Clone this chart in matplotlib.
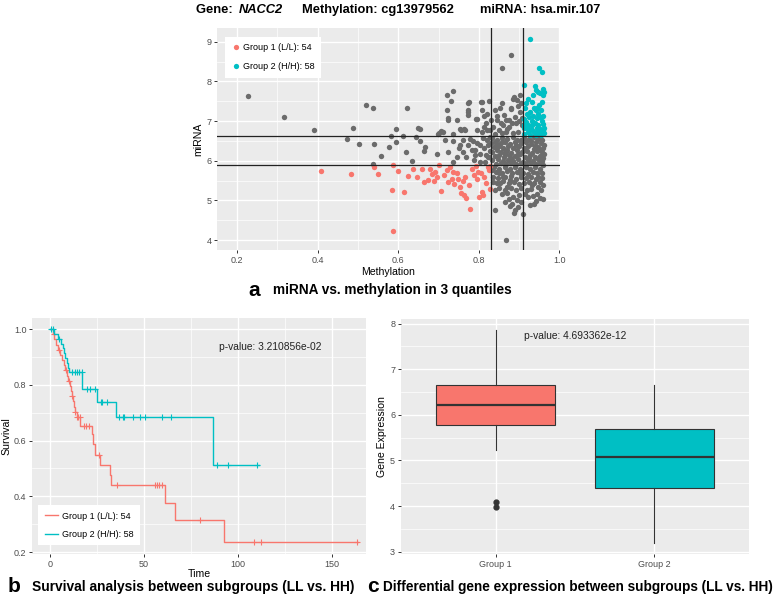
import numpy as np
import matplotlib
matplotlib.use("Agg")
import matplotlib.pyplot as plt
from matplotlib.lines import Line2D

plt.rcParams['font.family'] = ['Liberation Sans', 'DejaVu Sans']

# ---------------- data: panel a (methylation, miRNA) ----------------
red_points = [(0.407,5.74),(0.483,5.67),(0.539,5.85),(0.549,5.67),(0.584,5.25),(0.588,5.88),
    (0.599,5.74),(0.588,4.24),(0.614,5.21),(0.623,5.62),(0.636,5.78),(0.646,5.60),(0.659,5.78),
    (0.664,5.47),(0.673,5.51),(0.679,5.80),(0.683,5.66),(0.692,5.71),(0.696,5.59),(0.690,5.50),
    (0.702,5.88),(0.707,5.23),(0.714,5.63),(0.721,5.76),(0.724,5.47),(0.733,5.55),(0.737,5.72),
    (0.739,5.41),(0.745,5.68),(0.749,5.53),(0.754,5.34),(0.757,5.19),(0.760,5.48),(0.764,5.13),
    (0.769,5.06),(0.775,5.39),(0.777,4.79),(0.783,5.80),(0.788,5.63),(0.792,5.87),(0.795,5.55),
    (0.798,5.72),(0.800,5.08),(0.805,5.68),(0.807,5.22),(0.810,5.13),(0.813,5.60),(0.817,5.45),
    (0.822,5.83),(0.825,5.76),(0.827,5.86),(0.828,5.28),(0.729,5.83),(0.765,5.60)]

teal_points = [(0.926,9.08),(0.950,8.34),(0.958,8.23),(0.911,7.91),(0.940,7.88),(0.942,7.78),
    (0.948,7.74),(0.952,7.70),(0.960,7.80),(0.959,7.66),(0.962,7.72),(0.923,7.55),(0.931,7.49),
    (0.956,7.49),(0.944,7.34),(0.915,7.32),(0.919,7.19),(0.927,7.24),(0.942,7.28),(0.948,7.18),
    (0.935,7.13),(0.952,7.09),(0.911,7.04),(0.944,7.07),(0.917,6.98),(0.931,7.01),(0.956,7.01),
    (0.923,6.90),(0.940,6.94),(0.948,6.90),(0.959,6.92),(0.913,6.82),(0.929,6.80),(0.944,6.83),
    (0.952,6.79),(0.960,6.77),(0.921,6.73),(0.936,6.73),(0.948,6.71),(0.956,6.73),(0.962,6.69),
    (0.911,6.67),(0.927,6.65),(0.942,6.66),(0.954,6.64),(0.917,7.45),(0.935,7.66),(0.950,7.40),
    (0.933,6.90),(0.959,7.13),(0.913,6.90),(0.925,7.09),(0.938,7.34),(0.954,7.28),(0.919,6.82),
    (0.946,6.77),(0.962,6.82),(0.931,6.77)]

grey_points = [
    (0.226,7.64),(0.316,7.09),(0.392,6.78),(0.473,6.55),(0.487,6.83),(0.503,6.42),(0.520,7.41),
    (0.537,7.34),(0.541,6.43),(0.537,5.93),(0.558,6.11),(0.578,6.34),(0.583,6.62),(0.594,6.80),
    (0.595,6.46),(0.613,6.62),(0.622,7.34),(0.620,6.21),(0.634,5.99),(0.643,6.61),(0.648,6.83),
    (0.655,6.81),(0.655,6.50),(0.666,6.34),(0.665,6.24),(0.698,6.68),(0.707,6.75),(0.696,6.17),
    (0.721,7.65),(0.737,7.76),(0.731,7.50),(0.721,7.28),(0.724,7.08),(0.723,7.02),(0.717,6.52),
    (0.723,6.22),(0.735,6.50),(0.737,6.68),(0.745,7.03),(0.750,6.31),(0.756,6.77),(0.760,6.22),
    (0.764,6.80),(0.774,7.45),(0.774,7.16),(0.769,6.09),(0.785,6.50),(0.791,6.28),(0.794,7.05),
    (0.803,6.40),(0.808,7.48),(0.807,7.29),(0.814,7.12),(0.826,7.50),(0.820,6.77),(0.829,6.59),
    (0.826,6.10),(0.857,8.34),(0.880,8.66),(0.858,7.45),(0.876,7.03),(0.879,7.30),(0.884,7.55),
    # upper middle
    (0.776,7.47),(0.806,7.49),(0.773,7.28),(0.773,7.22),(0.795,7.05),(0.820,7.19),(0.840,7.28),
    (0.846,7.03),(0.853,7.34),(0.863,7.14),(0.868,7.03),(0.880,7.34),(0.888,7.61),(0.894,7.53),
    (0.898,7.38),(0.902,7.24),(0.890,7.09),(0.882,6.94),(0.874,6.86),(0.861,6.90),(0.849,6.77),
    (0.836,6.86),(0.828,6.77),(0.818,6.94),(0.807,6.73),(0.795,6.77),(0.766,6.77),(0.754,6.80),
    (0.711,6.73),(0.700,6.69),(0.898,6.73),(0.886,6.69),(0.907,6.90),(0.907,7.07),(0.857,6.69),
    (0.840,6.67),(0.868,6.73),(0.893,6.94),(0.902,7.65),(0.905,7.45),(0.900,7.00),(0.870,6.80),
    (0.855,6.95),(0.845,7.12),(0.831,7.02),(0.812,6.85),
    # band, left of first vertical line
    (0.762,6.52),(0.774,6.39),(0.783,6.27),(0.795,6.44),(0.803,6.18),(0.812,6.31),(0.820,6.52),
    (0.824,6.10),(0.803,5.97),(0.787,6.02),(0.816,5.97),(0.754,6.39),(0.745,6.10),(0.737,5.97),
    (0.810,6.58),(0.822,6.40),(0.828,6.25),(0.817,6.15),(0.790,6.15),(0.778,6.55),
    # dense band
    (0.834,6.57),(0.846,6.53),(0.858,6.58),(0.871,6.55),(0.884,6.59),(0.896,6.52),(0.912,6.58),
    (0.924,6.54),(0.936,6.60),(0.948,6.56),(0.958,6.52),
    (0.830,6.44),(0.841,6.48),(0.853,6.42),(0.865,6.47),(0.878,6.43),(0.891,6.48),(0.904,6.44),
    (0.917,6.47),(0.930,6.42),(0.942,6.48),(0.955,6.45),(0.962,6.40),
    (0.837,6.34),(0.849,6.37),(0.861,6.31),(0.873,6.36),(0.886,6.33),(0.899,6.38),(0.911,6.32),
    (0.923,6.36),(0.936,6.30),(0.948,6.35),(0.960,6.31),
    (0.832,6.22),(0.844,6.26),(0.856,6.21),(0.868,6.25),(0.881,6.20),(0.894,6.26),(0.907,6.22),
    (0.919,6.25),(0.932,6.19),(0.944,6.24),(0.956,6.21),
    (0.839,6.12),(0.851,6.15),(0.863,6.10),(0.876,6.14),(0.889,6.11),(0.902,6.16),(0.915,6.10),
    (0.927,6.14),(0.940,6.09),(0.952,6.13),(0.962,6.17),
    (0.834,6.01),(0.847,6.04),(0.859,5.99),(0.872,6.03),(0.884,6.00),(0.897,6.05),(0.910,5.98),
    (0.922,6.03),(0.934,5.99),(0.946,6.04),(0.958,6.00),
    (0.842,5.92),(0.855,5.94),(0.867,5.91),(0.879,5.95),(0.892,5.92),(0.905,5.94),(0.917,5.91),
    (0.929,5.95),(0.941,5.92),(0.953,5.94),
    (0.845,6.40),(0.870,6.28),(0.893,6.40),(0.915,6.28),(0.940,6.38),(0.950,6.27),(0.925,6.07),
    (0.880,6.07),(0.858,6.46),(0.905,6.53),(0.930,6.50),(0.953,6.60),(0.960,6.07),(0.898,6.18),
    (0.866,6.18),
    # lower right
    (0.832,5.76),(0.836,5.47),(0.840,5.26),(0.839,4.76),(0.849,5.68),(0.853,5.43),(0.861,5.60),
    (0.869,5.34),(0.874,5.03),(0.878,5.51),(0.882,4.92),(0.886,5.09),(0.890,4.76),(0.894,5.01),
    (0.888,4.69),(0.868,4.00),(0.902,5.68),(0.911,5.43),(0.919,5.26),(0.923,5.09),(0.909,4.66),
    (0.932,5.39),(0.936,4.92),(0.942,4.99),(0.948,5.60),(0.952,5.47),(0.956,5.68),(0.960,5.89),
    (0.959,5.39),(0.952,5.05),(0.944,5.17),
    (0.838,5.83),(0.851,5.80),(0.864,5.84),(0.877,5.79),(0.890,5.83),(0.903,5.80),(0.916,5.84),
    (0.928,5.79),(0.940,5.83),(0.951,5.78),
    (0.843,5.72),(0.857,5.69),(0.870,5.73),(0.883,5.68),(0.896,5.72),(0.910,5.70),(0.922,5.66),
    (0.934,5.71),(0.945,5.68),
    (0.835,5.59),(0.848,5.56),(0.866,5.58),(0.880,5.62),(0.893,5.55),(0.906,5.59),(0.918,5.56),
    (0.930,5.60),(0.941,5.55),(0.958,5.57),
    (0.845,5.44),(0.860,5.48),(0.874,5.44),(0.887,5.46),(0.899,5.42),(0.925,5.47),(0.938,5.45),
    (0.946,5.35),
    (0.850,5.30),(0.864,5.27),(0.880,5.31),(0.893,5.26),(0.906,5.32),(0.930,5.28),(0.955,5.25),
    (0.857,5.16),(0.871,5.18),(0.900,5.14),(0.915,5.17),(0.935,5.12),(0.960,5.03),
    (0.877,4.86),(0.897,4.84),(0.928,4.88),(0.905,4.96),(0.866,4.97)]

meth_cuts = [0.8306, 0.909]
mirna_cuts = [5.90, 6.62]

# ---------------- data: panel b (Kaplan-Meier steps) ----------------
g1_times = [0, 1.5, 2.5, 3.5, 4.5, 5.5, 6.5, 7.5, 8.3, 9.0, 9.8, 10.6, 11.3, 11.9, 12.5, 13.0,
            13.6, 14.3, 16.3, 22.5, 23.2, 24.0, 26.6, 31.9, 32.8, 61.5, 66.3, 92.6]
g1_surv = [1.0, 0.981, 0.963, 0.944, 0.926, 0.907, 0.889, 0.870, 0.852, 0.833, 0.815, 0.796,
           0.778, 0.759, 0.741, 0.722, 0.703, 0.684, 0.654, 0.622, 0.586, 0.549, 0.513, 0.477,
           0.440, 0.377, 0.314, 0.236]
g1_end = 163.5
g1_censor = [2.1, 4.8, 8.4, 10.1, 11.9, 13.7, 14.6, 15.2, 16.0, 18.1, 19.5, 20.7, 26.0, 35.5,
             55.9, 57.1, 58.3, 59.8, 79.6, 108.5, 112.0, 163.0]

g2_times = [0, 2.5, 4.5, 6.0, 6.8, 7.5, 8.2, 9.0, 9.8, 10.5, 17.3, 25.2, 35.0, 86.7]
g2_surv = [1.0, 0.983, 0.966, 0.948, 0.931, 0.914, 0.897, 0.879, 0.862, 0.845, 0.785, 0.738,
           0.683, 0.513]
g2_end = 111.0
g2_censor = [0.5, 1.5, 4.7, 11.9, 13.5, 14.5, 15.5, 17.0, 19.9, 21.6, 24.3, 27.0, 27.9, 30.5,
             36.7, 39.0, 39.7, 44.4, 47.9, 50.4, 59.4, 64.2, 89.0, 94.7, 110.3]

pval_b = "p-value: 3.210856e-02"

# ---------------- data: panel c (box plot) ----------------
box_groups = ["Group 1", "Group 2"]
box_med = [6.21, 5.08]
box_q1 = [5.78, 4.39]
box_q3 = [6.66, 5.69]
box_lo = [5.22, 3.20]
box_hi = [7.85, 6.65]
box_fliers = [[4.09, 3.97], []]
pval_c = "p-value: 4.693362e-12"

RED = '#F8766D'
TEAL = '#00BFC4'
GREY = '#6B6B6B'

W, H = 778, 601
fig = plt.figure(figsize=(W / 100, H / 100), dpi=100)


def rect(l, t, r, b):
    return [l / W, 1 - b / H, (r - l) / W, (b - t) / H]


def gg(ax):
    ax.set_facecolor('#EBEBEB')
    for s in ax.spines.values():
        s.set_visible(False)
    ax.set_axisbelow(True)
    ax.grid(which='major', color='white', lw=1.0)
    ax.grid(which='minor', color='white', lw=0.5)
    ax.tick_params(which='major', length=2.5, width=0.7, color='#333333',
                   labelsize=6.5, labelcolor='#4D4D4D', pad=1.5)
    ax.tick_params(which='minor', length=0)


def ftext(x, y, s, **kw):
    return fig.text(x / W, 1 - y / H, s, **kw)


# ---------------- panel a ----------------
axA = fig.add_axes(rect(217, 28, 560, 250))
gg(axA)
gx, gy = zip(*grey_points)
rx, ry = zip(*red_points)
tx, ty = zip(*teal_points)
axA.scatter(gx, gy, s=15, c=GREY, linewidths=0, zorder=2)
axA.scatter(rx, ry, s=15, c=RED, linewidths=0, zorder=2)
axA.scatter(tx, ty, s=15, c=TEAL, linewidths=0, zorder=2)
for v in meth_cuts:
    axA.axvline(v, color='#222222', lw=0.9, zorder=3)
for h in mirna_cuts:
    axA.axhline(h, color='#222222', lw=0.9, zorder=3)
axA.set_xlim(0.150, 1.0016)
axA.set_ylim(3.75, 9.345)
axA.set_xticks([0.2, 0.4, 0.6, 0.8, 1.0])
axA.set_xticklabels(['0.2', '0.4', '0.6', '0.8', '1.0'])
axA.set_xticks([0.3, 0.5, 0.7, 0.9], minor=True)
axA.set_yticks([4, 5, 6, 7, 8, 9])
axA.set_yticks([4.5, 5.5, 6.5, 7.5, 8.5], minor=True)
axA.set_xlabel('Methylation', fontsize=7.6, labelpad=2)
axA.set_ylabel('miRNA', fontsize=7.6, labelpad=2)
hA = [Line2D([], [], marker='o', ls='', color=RED, markersize=3.8, markeredgewidth=0),
      Line2D([], [], marker='o', ls='', color=TEAL, markersize=3.8, markeredgewidth=0)]
legA = axA.legend(hA, ['Group 1 (L/L): 54', 'Group 2 (H/H): 58'], loc='upper left',
                  bbox_to_anchor=(8 / 343, 1 - 8.7 / 222), borderaxespad=0, fontsize=6.5,
                  frameon=True, fancybox=False, edgecolor='white', framealpha=1,
                  handletextpad=0.3, labelspacing=1.05, borderpad=0.75, handlelength=0.9)
legA.get_frame().set_linewidth(0)

# ---------------- panel b ----------------
axB = fig.add_axes(rect(32, 318, 366, 554))
gg(axB)
for times, surv, end, cens, col in [(g1_times, g1_surv, g1_end, g1_censor, RED),
                                    (g2_times, g2_surv, g2_end, g2_censor, TEAL)]:
    t = np.array(times + [end])
    s = np.array(surv + [surv[-1]])
    axB.step(t, s, where='post', color=col, lw=1.0, zorder=3)
    idx = np.searchsorted(np.array(times), np.array(cens), side='right') - 1
    cy = np.array(surv)[idx]
    axB.plot(cens, cy, ls='', marker='+', color=col, markersize=5, mew=0.8, zorder=3)
axB.set_xlim(-9.4, 168)
axB.set_ylim(0.193, 1.04)
axB.set_xticks([0, 50, 100, 150])
axB.set_xticks([25, 75, 125], minor=True)
axB.set_yticks([0.2, 0.4, 0.6, 0.8, 1.0])
axB.set_yticklabels(['0.2', '0.4', '0.6', '0.8', '1.0'])
axB.set_yticks([0.3, 0.5, 0.7, 0.9], minor=True)
axB.set_xlabel('Time', fontsize=7.6, labelpad=0.5)
axB.set_ylabel('Survival', fontsize=7.6, labelpad=2)
axB.text(117, 0.936, pval_b, fontsize=7.4, ha='center', va='center', color='#222222')
hB = [Line2D([], [], color=RED, lw=1.0), Line2D([], [], color=TEAL, lw=1.0)]
legB = axB.legend(hB, ['Group 1 (L/L): 54', 'Group 2 (H/H): 58'], loc='lower left',
                  bbox_to_anchor=(6.3 / 334, 9 / 236), borderaxespad=0, fontsize=6.5,
                  frameon=True, fancybox=False, edgecolor='white', framealpha=1,
                  handletextpad=0.4, labelspacing=1.0, borderpad=0.7, handlelength=1.5)
legB.get_frame().set_linewidth(0)

# ---------------- panel c ----------------
axC = fig.add_axes(rect(400.7, 319, 749.3, 554))
gg(axC)
stats = []
for i in range(2):
    stats.append(dict(med=box_med[i], q1=box_q1[i], q3=box_q3[i], whislo=box_lo[i],
                      whishi=box_hi[i], fliers=box_fliers[i], label=box_groups[i]))
bp = axC.bxp(stats, positions=[1, 2], widths=0.75, patch_artist=True, showcaps=False,
             boxprops=dict(edgecolor='#333333', lw=0.8),
             medianprops=dict(color='#333333', lw=1.6),
             whiskerprops=dict(color='#333333', lw=0.8),
             flierprops=dict(marker='o', markerfacecolor='#333333', markeredgecolor='#333333',
                             markersize=3.5))
for patch, col in zip(bp['boxes'], [RED, TEAL]):
    patch.set_facecolor(col)
    patch.set_zorder(2)
axC.set_xlim(0.4, 2.6)
axC.set_ylim(2.95, 8.10)
axC.set_xticks([1, 2])
axC.set_xticklabels(box_groups)
axC.set_yticks([3, 4, 5, 6, 7, 8])
axC.set_yticks([3.5, 4.5, 5.5, 6.5, 7.5], minor=True)
axC.set_ylabel('Gene Expression', fontsize=7.6, labelpad=2)
axC.text(1.5, 7.73, pval_c, fontsize=7.4, ha='center', va='center', color='#222222')

# ---------------- titles and captions ----------------
TFS = 9.3
fig.canvas.draw()
r = fig.canvas.get_renderer()
t1 = ftext(196, 10, 'Gene: ', fontsize=TFS, fontweight='bold', va='center')
x_after = t1.get_window_extent(renderer=r).x1
fig.text(x_after / W + 2 / W, 1 - 10 / H, 'NACC2', fontsize=TFS, fontweight='bold',
         style='italic', va='center')
ftext(302, 10, 'Methylation: cg13979562', fontsize=TFS, fontweight='bold', va='center')
ftext(480, 10, 'miRNA: hsa.mir.107', fontsize=TFS, fontweight='bold', va='center')

ftext(248, 290, 'a', fontsize=15, fontweight='bold', va='center')
ftext(272.7, 290, 'miRNA vs. methylation in 3 quantiles', fontsize=9.8, fontweight='bold',
      va='center')
ftext(8, 587, 'b', fontsize=15, fontweight='bold', va='center')
ftext(31.7, 587, 'Survival analysis between subgroups (LL vs. HH)', fontsize=9.9,
      fontweight='bold', va='center')
ftext(367, 587, 'c', fontsize=15, fontweight='bold', va='center')
ftext(383.3, 587, 'Differential gene expression between subgroups (LL vs. HH)', fontsize=9.8,
      fontweight='bold', va='center')

fig.savefig('out.png', dpi=100, facecolor='white')
